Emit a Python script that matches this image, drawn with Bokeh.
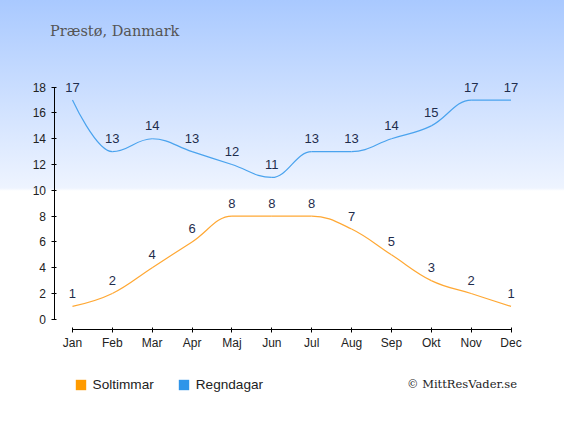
from bokeh.plotting import figure
from bokeh.models import (ColumnDataSource, FixedTicker, Range1d, Label, Legend, LegendItem)
from bokeh.core.properties import value
from bokeh.embed import file_html
from bokeh.resources import INLINE

months = ["Jan", "Feb", "Mar", "Apr", "Maj", "Jun", "Jul", "Aug", "Sep", "Okt", "Nov", "Dec"]
soltimmar = [1, 2, 4, 6, 8, 8, 8, 7, 5, 3, 2, 1]
regndagar = [17, 13, 14, 13, 12, 11, 13, 13, 14, 15, 17, 17]
y_ticks = [0, 2, 4, 6, 8, 10, 12, 14, 16, 18]
title_text = "Præstø, Danmark"
credit_text = "© MittResVader.se"

ORANGE_LINE = "#ffa834"
BLUE_LINE = "#4aa3ee"
ORANGE_LEG = "#ff9b00"
BLUE_LEG = "#2f95e9"
LABEL_COLOR = "#1f2d4d"


def spline_segments(xs, ys, smoothing=1.5):
    """Highcharts-style spline control points, one cubic bezier per segment."""
    n = len(xs)
    denom = smoothing + 1
    lc = [(xs[i], ys[i]) for i in range(n)]
    rc = [(xs[i], ys[i]) for i in range(n)]
    for i in range(1, n - 1):
        px, py = xs[i], ys[i]
        lx_, ly_ = xs[i - 1], ys[i - 1]
        nx_, ny_ = xs[i + 1], ys[i + 1]
        lcx = (smoothing * px + lx_) / denom
        lcy = (smoothing * py + ly_) / denom
        rcx = (smoothing * px + nx_) / denom
        rcy = (smoothing * py + ny_) / denom
        corr = 0.0
        if rcx != lcx:
            corr = (rcy - lcy) * (rcx - px) / (rcx - lcx) + py - rcy
        lcy += corr
        rcy += corr
        if lcy > ly_ and lcy > py:
            lcy = max(ly_, py)
            rcy = 2 * py - lcy
        elif lcy < ly_ and lcy < py:
            lcy = min(ly_, py)
            rcy = 2 * py - lcy
        if rcy > ny_ and rcy > py:
            rcy = max(ny_, py)
            lcy = 2 * py - rcy
        elif rcy < ny_ and rcy < py:
            rcy = min(ny_, py)
            lcy = 2 * py - rcy
        lc[i] = (lcx, lcy)
        rc[i] = (rcx, rcy)
    d = dict(x0=[], y0=[], x1=[], y1=[], cx0=[], cy0=[], cx1=[], cy1=[])
    for i in range(n - 1):
        d["x0"].append(xs[i]); d["y0"].append(ys[i])
        d["x1"].append(xs[i + 1]); d["y1"].append(ys[i + 1])
        d["cx0"].append(rc[i][0]); d["cy0"].append(rc[i][1])
        d["cx1"].append(lc[i + 1][0]); d["cy1"].append(lc[i + 1][1])
    return d


xs = list(range(len(months)))

# frame fills almost the whole figure; axes are drawn at fixed locations inside it
p = figure(width=564, height=419, output_backend="svg", toolbar_location=None,
           x_range=Range1d(-1.1528, 12.341), y_range=Range1d(-5.908, 24.72),
           min_border_left=26, min_border_right=0, min_border_top=0, min_border_bottom=24)

p.styles = {"background": "linear-gradient(to bottom, #a9c9ff 0px, #eef4ff 188px, #ffffff 191px, #ffffff 100%)"}
p.border_fill_color = None
p.background_fill_color = None
p.outline_line_color = None
p.grid.visible = False

# smooth lines
p.bezier(x0="x0", y0="y0", x1="x1", y1="y1", cx0="cx0", cy0="cy0", cx1="cx1", cy1="cy1",
         source=ColumnDataSource(spline_segments(xs, soltimmar)), line_color=ORANGE_LINE, line_width=1.2)
p.bezier(x0="x0", y0="y0", x1="x1", y1="y1", cx0="cx0", cy0="cy0", cx1="cx1", cy1="cy1",
         source=ColumnDataSource(spline_segments(xs, regndagar)), line_color=BLUE_LINE, line_width=1.2)

# value labels
for ser in (soltimmar, regndagar):
    src = ColumnDataSource(dict(x=xs, y=ser, t=[str(v) for v in ser]))
    p.text(x="x", y="y", text="t", source=src, y_offset=-13, text_align="center",
           text_baseline="middle", text_font=value("Liberation Sans"), text_font_size="13px",
           text_color=LABEL_COLOR)

# axes
xa = p.xaxis[0]
xa.ticker = FixedTicker(ticks=xs)
xa.major_label_overrides = {i: m for i, m in enumerate(months)}
xa.bounds = (0, 11)
xa.fixed_location = -0.752
ya = p.yaxis[0]
ya.ticker = FixedTicker(ticks=y_ticks)
ya.bounds = (0, 18)
ya.fixed_location = -0.463
for ax in (xa, ya):
    ax.axis_line_color = "black"
    ax.major_tick_line_color = "black"
    ax.minor_tick_line_color = None
    ax.major_label_text_font = "Liberation Sans"
    ax.major_label_text_font_size = "12px"
    ax.major_label_text_color = "#222222"
    ax.axis_label_standoff = 0
xa.major_tick_in = 2
xa.major_tick_out = 3
xa.major_label_standoff = 4
ya.major_tick_in = 2
ya.major_tick_out = 3
ya.major_label_standoff = 5

# title and credit
p.add_layout(Label(x=-0.561, y=22.33, text=title_text, text_font="DejaVu Serif", text_font_size="14.5px",
                   text_color="#555555", text_baseline="middle", text_align="left"))
p.add_layout(Label(x=8.39, y=-5.01, text=credit_text, text_font="DejaVu Serif", text_font_size="11.5px",
                   text_color="#222222", text_baseline="middle", text_align="left"))

# legend swatches: hidden area renderers of the series (only their swatches show in the legend)
r1 = p.vbar(x=xs, top=soltimmar, width=0.5, fill_color=ORANGE_LEG, line_color=None, visible=False)
r2 = p.vbar(x=xs, top=regndagar, width=0.5, fill_color=BLUE_LEG, line_color=None, visible=False)
legend = Legend(items=[LegendItem(label="Soltimmar", renderers=[r1]),
                       LegendItem(label="Regndagar", renderers=[r2])],
                orientation="horizontal", location=(47.6, 3),
                glyph_width=13, glyph_height=13, label_height=11, label_standoff=6, spacing=23,
                padding=0, margin=0, border_line_color=None, background_fill_alpha=0,
                inactive_fill_alpha=0,
                label_text_font="Liberation Sans", label_text_font_size="13.6px",
                label_text_color="#222222")
p.add_layout(legend, "center")

open("out.html", "w").write(file_html(p, INLINE))
